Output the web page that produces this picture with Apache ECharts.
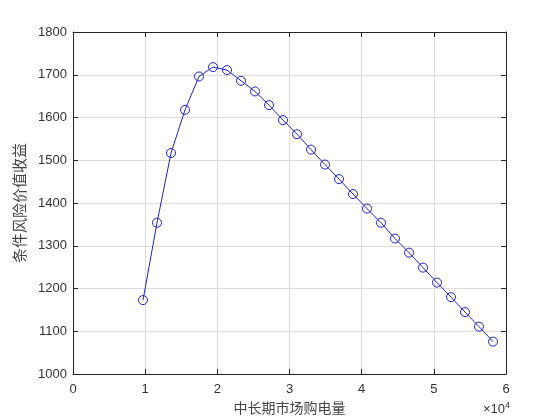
<!DOCTYPE html>
<html>
<head>
<meta charset="utf-8">
<script src="https://cdn.jsdelivr.net/npm/echarts@6/dist/echarts.min.js"></script>
<style>html,body{margin:0;padding:0;background:#fff;}#c{width:560px;height:420px;}</style>
</head>
<body>
<div id="c"></div>
<script>
// x in units of 10^4
const xValues = [0.97, 1.164, 1.358, 1.552, 1.746, 1.94, 2.134, 2.328, 2.522, 2.716, 2.91, 3.104, 3.298, 3.492, 3.686, 3.88, 4.074, 4.268, 4.462, 4.656, 4.85, 5.044, 5.238, 5.432, 5.626, 5.82];
const yValues = [1173, 1354, 1517, 1618, 1696, 1718, 1711, 1686, 1661, 1629, 1594, 1561, 1525, 1490, 1456, 1421, 1387, 1354, 1317, 1284, 1249, 1214, 1180, 1145, 1111, 1076];
const xName = '中长期市场购电量';
const yName = '条件风险价值收益';

const chart = echarts.init(document.getElementById('c'), null, {renderer: 'canvas'});
const font = 'Liberation Sans, Arial, sans-serif';
const cjk = 'Noto Sans CJK SC, sans-serif';
const axisCol = '#262626';
const gridCol = '#dcdcdc';
const data = xValues.map((x, i) => [x, yValues[i]]);

const baseAxis = {
  axisLine: {show: true, onZero: false, lineStyle: {color: axisCol, width: 1}},
  axisTick: {show: true, inside: true, length: 5, lineStyle: {color: axisCol}},
};

chart.setOption({
  backgroundColor: '#fff',
  animation: false,
  grid: {left: 73, right: 54, top: 32, bottom: 45},
  xAxis: [
    Object.assign({}, baseAxis, {
      type: 'value', min: 0, max: 6, interval: 1, position: 'bottom',
      name: xName, nameLocation: 'middle', nameGap: 24,
      nameTextStyle: {fontFamily: cjk, fontSize: 14, color: '#444'},
      axisLabel: {fontFamily: font, fontSize: 13, color: '#333', margin: 9, formatter: v => String(v)},
      splitLine: {show: true, lineStyle: {color: gridCol, width: 1}}
    }),
    Object.assign({}, baseAxis, {
      type: 'value', min: 0, max: 6, interval: 1, position: 'top',
      axisLabel: {show: false}, splitLine: {show: false}
    })
  ],
  yAxis: [
    Object.assign({}, baseAxis, {
      type: 'value', min: 1000, max: 1800, interval: 100, position: 'left',
      name: yName, nameLocation: 'middle', nameGap: 34,
      nameTextStyle: {fontFamily: cjk, fontSize: 15, color: '#444'},
      axisLabel: {fontFamily: font, fontSize: 13, color: '#333', margin: 6, formatter: v => String(v)},
      splitLine: {show: true, lineStyle: {color: gridCol, width: 1}}
    }),
    Object.assign({}, baseAxis, {
      type: 'value', min: 1000, max: 1800, interval: 100, position: 'right',
      axisLabel: {show: false}, splitLine: {show: false}
    })
  ],
  series: [{
    type: 'line',
    data: data,
    xAxisIndex: 0, yAxisIndex: 0,
    symbol: 'circle', symbolSize: 9,
    showAllSymbol: true,
    lineStyle: {color: '#2222c0', width: 1},
    itemStyle: {color: 'rgba(0,0,0,0)', borderColor: '#2222c0', borderWidth: 1},
    emphasis: {disabled: true}
  }],
  graphic: [{
    type: 'text', left: 483, top: 401,
    style: {
      text: '×10{s|4}',
      font: '13px Liberation Sans, Arial, sans-serif',
      fill: '#333',
      rich: {s: {fontSize: 9, verticalAlign: 'top', padding: [0,0,8,0], fill: '#333'}}
    }
  }]
});
</script>
</body>
</html>
